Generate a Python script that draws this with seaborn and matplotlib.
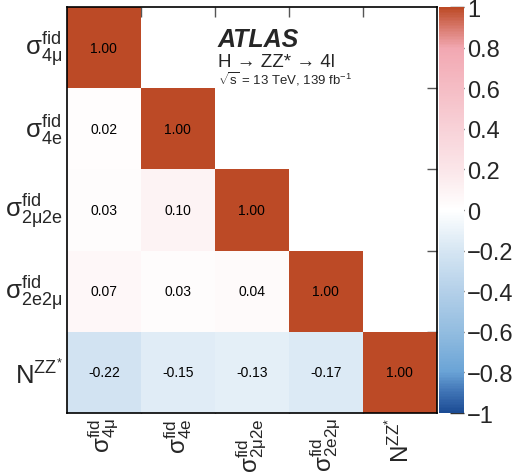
"""
ATLAS H->ZZ*->4l fiducial cross-section correlation matrix (lower triangle)
"""

import numpy as np
import matplotlib
matplotlib.use('Agg')
import matplotlib.pyplot as plt
from matplotlib.colors import LinearSegmentedColormap
import seaborn as sns

# ---- data ----
labels = [r'$\mathrm{σ^{fid}_{4μ}}$',
          r'$\mathrm{σ^{fid}_{4e}}$',
          r'$\mathrm{σ^{fid}_{2μ2e}}$',
          r'$\mathrm{σ^{fid}_{2e2μ}}$',
          r'$\mathrm{N^{ZZ^{*}}}$']
row0 = [1.00]
row1 = [0.02, 1.00]
row2 = [0.03, 0.10, 1.00]
row3 = [0.07, 0.03, 0.04, 1.00]
row4 = [-0.22, -0.15, -0.13, -0.17, 1.00]
cbar_ticks = [-1, -0.8, -0.6, -0.4, -0.2, 0, 0.2, 0.4, 0.6, 0.8, 1]
cbar_labels = ['\u22121', '\u22120.8', '\u22120.6', '\u22120.4', '\u22120.2', '0',
               '0.2', '0.4', '0.6', '0.8', '1']

n = len(labels)
corr = np.full((n, n), np.nan)
for i, row in enumerate([row0, row1, row2, row3, row4]):
    corr[i, :len(row)] = row
mask = np.isnan(corr)

sns.set_style('white')
plt.rcParams['font.family'] = ['Liberation Sans', 'DejaVu Sans']
plt.rcParams['mathtext.fontset'] = 'custom'
plt.rcParams['mathtext.rm'] = 'Liberation Sans'
plt.rcParams['mathtext.it'] = 'Liberation Sans:italic'
plt.rcParams['mathtext.bf'] = 'Liberation Sans:bold'

cmap = LinearSegmentedColormap.from_list('atlas_corr', [
    (0.00, '#1c4c94'),
    (0.05, '#3f73b5'),
    (0.10, '#6aa3d6'),
    (0.20, '#93bde0'),
    (0.30, '#b4d0e9'),
    (0.40, '#d6e6f3'),
    (0.50, '#ffffff'),
    (0.60, '#fbe6e9'),
    (0.70, '#f8d2d8'),
    (0.80, '#f5bdc5'),
    (0.90, '#f2a8b2'),
    (0.95, '#d97a6e'),
    (1.00, '#bc4a26'),
])

fig = plt.figure(figsize=(5.14, 4.77), dpi=100)
ax = fig.add_axes([0.130, 0.132, 0.720, 0.851])
cax = fig.add_axes([0.854, 0.132, 0.049, 0.851])

sns.heatmap(corr, mask=mask, cmap=cmap, vmin=-1, vmax=1, annot=True, fmt='.2f',
            annot_kws={'fontsize': 10, 'color': 'black'},
            ax=ax, cbar_ax=cax, cbar_kws={'ticks': cbar_ticks})

# tick labels at cell centres, tick marks at cell boundaries (inside)
ax.set_xticks(np.arange(n) + 0.5)
ax.set_yticks(np.arange(n) + 0.5)
ax.set_xticklabels(labels, rotation=90, fontsize=17.5)
ax.set_yticklabels(labels, rotation=0, fontsize=18.5)
ax.tick_params(which='major', length=0, pad=3)
ax.set_xticks(np.arange(1, n), minor=True)
ax.set_yticks(np.arange(1, n), minor=True)
ax.tick_params(which='minor', direction='in', length=7, width=1, color='#555555',
               top=True, bottom=True, left=True, right=True)
for s in ax.spines.values():
    s.set_visible(True)
    s.set_color('black')
    s.set_linewidth(1.2)

cax.set_yticklabels(cbar_labels, fontsize=17)
cax.tick_params(direction='in', length=10, width=1, color='#333333', pad=2)
for s in cax.spines.values():
    s.set_visible(False)

fig.text(0.424, 0.902, 'ATLAS', fontsize=18, fontweight='bold', fontstyle='italic')
fig.text(0.424, 0.860, 'H \u2192 ZZ* \u2192 4l', fontsize=13.5)
fig.text(0.424, 0.822, r'$\sqrt{\mathrm{s}}$ = 13 TeV, 139 fb$^{\mathrm{-1}}$', fontsize=9.5)

plt.savefig('out.png', dpi=100)
